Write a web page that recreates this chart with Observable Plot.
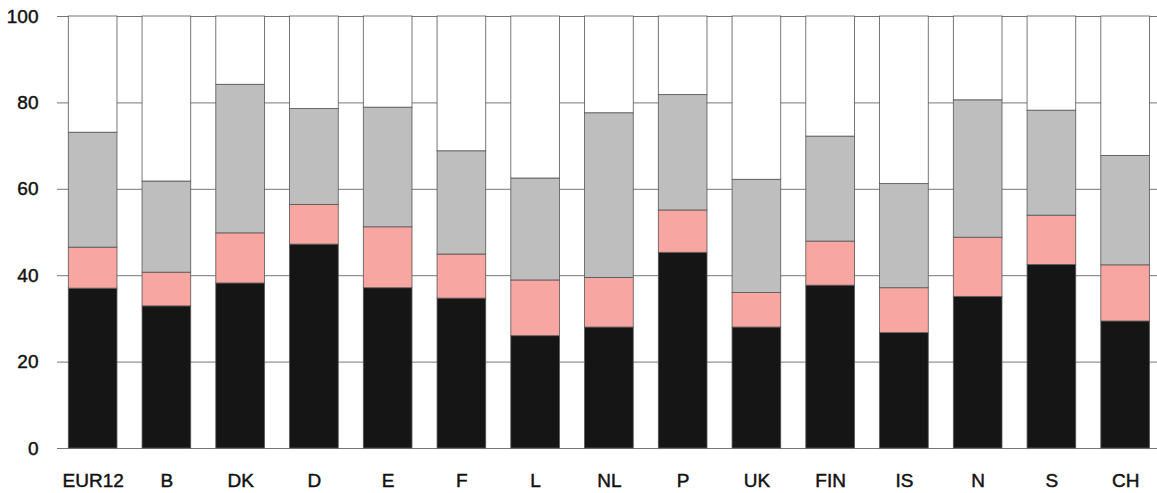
<!DOCTYPE html>
<html><head><meta charset="utf-8">
<script src="https://cdn.jsdelivr.net/npm/d3@7"></script>
<script src="https://cdn.jsdelivr.net/npm/@observablehq/plot@0.6"></script>
<style>
body{margin:0;background:#fff}
#chart svg text{stroke:#111;stroke-width:0.45px}
</style>
</head><body><div id="chart"></div>
<script>
const countries = ["EUR12","B","DK","D","E","F","L","NL","P","UK","FIN","IS","N","S","CH"];
const segBlack = [37.0,32.9,38.2,47.2,37.1,34.7,26.0,28.0,45.3,28.0,37.7,26.7,35.1,42.5,29.4];
const segPink  = [9.5,7.8,11.6,9.2,14.1,10.2,12.9,11.5,9.8,8.0,10.2,10.4,13.7,11.4,13.0];
const segGrey  = [26.6,21.1,34.4,22.2,27.7,23.9,23.6,38.1,26.7,26.2,24.3,24.1,31.8,24.3,25.3];
const segWhite = [26.9,38.2,15.8,21.4,21.1,31.2,37.5,22.4,18.2,37.8,27.8,38.8,19.4,21.8,32.3];
const seriesNames = ["S1","S2","S3","S4"];
const seriesColors = ["#151515","#f8a6a2","#bebebe","#ffffff"];
const yTicks = [0,20,40,60,80,100];

const segs = [segBlack, segPink, segGrey, segWhite];
const data = [];
countries.forEach((c, i) => segs.forEach((arr, j) => data.push({country: c, series: seriesNames[j], value: arr[i]})));

const chart = Plot.plot({
  width: 1157, height: 493,
  marginLeft: 57, marginRight: 0, marginTop: 16, marginBottom: 45,
  style: {fontFamily: "'Liberation Sans', Arial, sans-serif", background: "#fff", color: "#111"},
  x: {domain: countries, range: [68.3, 1149.5], paddingInner: 0.34, paddingOuter: 0, round: false, label: null},
  y: {domain: [0, 100], label: null},
  color: {type: "ordinal", domain: seriesNames, range: seriesColors},
  marks: [
    Plot.ruleY(yTicks, {stroke: "#777", strokeWidth: 1}),
    Plot.barY(data, {x: "country", y: "value", fill: "series", stroke: "#555", strokeWidth: 0.8, order: seriesNames}),
    Plot.axisX({tickSize: 0, tickPadding: 25, fontSize: 19, label: null}),
    Plot.axisY({ticks: yTicks, tickSize: 0, tickPadding: 19, fontSize: 19, label: null, letterSpacing: "-1px"})
  ]
});
document.getElementById("chart").appendChild(chart);
</script>
</body></html>
